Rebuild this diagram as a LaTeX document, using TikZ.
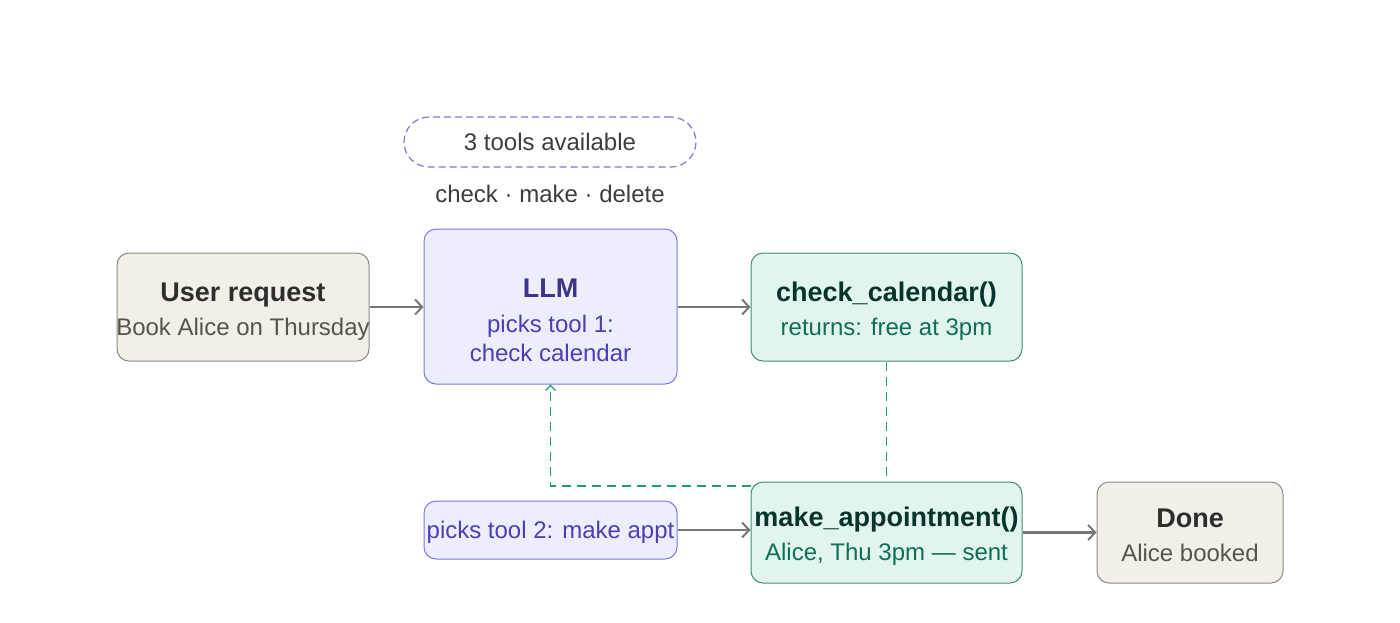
\documentclass[tikz,border=0pt]{standalone}
\usepackage{fontspec}
\setmainfont{Liberation Sans}
\usetikzlibrary{arrows.meta}
\definecolor{beigefill}{HTML}{F1EFE8}
\definecolor{beigeline}{HTML}{8C8A84}
\definecolor{beigetitle}{HTML}{2E2E2B}
\definecolor{beigesub}{HTML}{555550}
\definecolor{indfill}{HTML}{EEEDFE}
\definecolor{indline}{HTML}{7F77DD}
\definecolor{indtitle}{HTML}{3C3489}
\definecolor{indsub}{HTML}{4A40B5}
\definecolor{grnfill}{HTML}{E1F5EE}
\definecolor{grnline}{HTML}{3E8E74}
\definecolor{grntitle}{HTML}{04342C}
\definecolor{grnsub}{HTML}{0F6E56}
\definecolor{grndash}{HTML}{1D9E75}
\definecolor{arrowgray}{HTML}{777775}
\definecolor{plaintext}{HTML}{3D3D3A}
\newcommand\boxttl[2]{\color{#1}\fontsize{27}{29}\selectfont\bfseries #2}
\newcommand\boxsub[2]{\color{#1}\fontsize{24}{29}\selectfont #2}
\begin{document}
\begin{tikzpicture}[x=1pt,y=-1pt,
  box/.style={draw, rounded corners=12pt, line width=1pt, inner sep=0pt},
  txt/.style={align=center, inner sep=0pt, font=\fontsize{24}{29}\selectfont},
  beigebox/.style={box, fill=beigefill, draw=beigeline},
  indbox/.style={box, fill=indfill, draw=indline},
  grnbox/.style={box, fill=grnfill, draw=grnline},
  flow/.style={draw=arrowgray, line width=2.5pt, -{Straight Barb[length=7pt,width=15pt,line width=2pt]}},
  back/.style={draw=grndash, line width=1.8pt, dash pattern=on 9pt off 6pt},
]
\useasboundingbox (0,0) rectangle (1400,622);

\node[draw=indline, line width=1.2pt, dash pattern=on 7pt off 4pt, rounded corners=25pt,
      minimum width=292pt, minimum height=50pt, text=plaintext,
      font=\fontsize{24}{28}\selectfont] (pill) at (550,142) {3 tools available};
\node[text=plaintext, font=\fontsize{24}{28}\selectfont] (toollist) at (550,194) {check · make · delete};

% boxes
\node[beigebox, minimum width=252pt, minimum height=108pt] (user) at (243,307) {};
\node[indbox, minimum width=253pt, minimum height=155pt] (llm) at (550.5,306.5) {};
\node[grnbox, minimum width=271pt, minimum height=108pt] (check) at (886.5,307) {};
\node[indbox, minimum width=253pt, minimum height=58pt] (pick2) at (550.5,530) {};
\node[grnbox, minimum width=271pt, minimum height=101pt] (make) at (886.5,532.5) {};
\node[beigebox, minimum width=186pt, minimum height=101pt] (done) at (1190,532.5) {};

% texts
\node[txt] (usertext) at ([yshift=-4.5pt]user.center)
  {\boxttl{beigetitle}{User request}\\[5pt]
   \boxsub{beigesub}{Book Alice on Thursday}};
\node[txt] (llmtext) at ([yshift=-14pt]llm.center)
  {\boxttl{indtitle}{LLM}\\[6pt]
   \boxsub{indsub}{picks tool 1:}\\
   \boxsub{indsub}{check calendar}};
\node[txt] (checktext) at ([yshift=-4pt]check.center)
  {\boxttl{grntitle}{check\_calendar()}\\[5pt]
   \boxsub{grnsub}{returns: free at 3pm}};
\node[txt, text=indsub] (pick2text) at ([yshift=-2pt]pick2.center) {picks tool 2: make appt};
\node[txt] (maketext) at ([yshift=-4pt]make.center)
  {\boxttl{grntitle}{make\_appointment()}\\[5pt]
   \boxsub{grnsub}{Alice, Thu 3pm — sent}};
\node[txt] (donetext) at ([yshift=-3pt]done.center)
  {\boxttl{beigetitle}{Done}\\[5pt]
   \boxsub{beigesub}{Alice booked}};

% connectors
\draw[flow] (user.east) -- (llm.west |- user.east);
\draw[flow] (llm.east |- check.west) -- (check.west);
\draw[flow] (pick2.east) -- (make.west |- pick2.east);
\draw[flow] (make.east |- done.west) -- (done.west);

\draw[back] (check.south) -- (make.north);
\coordinate (corner) at (llm.south |- 0,486);
\draw[back, -{Straight Barb[length=5pt,width=10pt,line width=1.4pt]}]
  (make.west |- corner) -- (corner) -- (llm.south);
\end{tikzpicture}
\end{document}
